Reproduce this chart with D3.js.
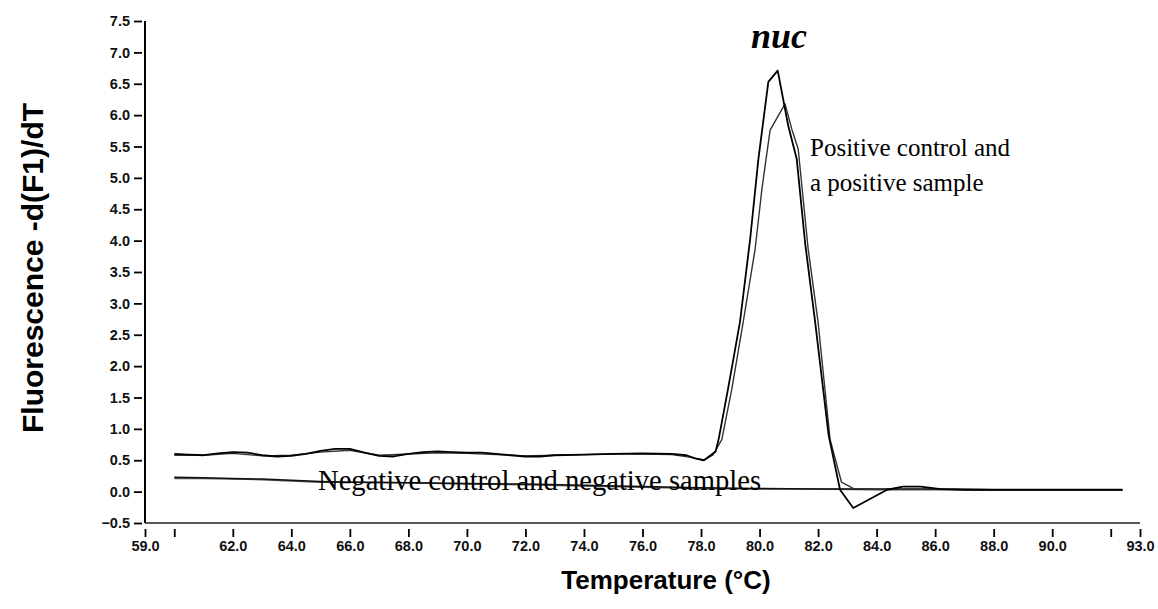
<!DOCTYPE html>
<html>
<head>
<meta charset="utf-8">
<script src="https://cdn.jsdelivr.net/npm/d3@7"></script>
<style>
  body { margin: 0; background: #fff; }
  .ejes text { font-family: 'Liberation Sans', Arial, sans-serif; font-weight: bold; font-size: 14.5px; fill: #111; }
  .titulo { font-family: 'Liberation Sans', Arial, sans-serif; font-weight: bold; fill: #000; }
  .nota { font-family: 'Liberation Serif', 'Times New Roman', serif; fill: #000; }
</style>
</head>
<body>
<div id="graf"></div>
<script>
const anchoTotal = 1158
const altoTotal = 609

// datos
const yTicks = [-0.5, 0, 0.5, 1, 1.5, 2, 2.5, 3, 3.5, 4, 4.5, 5, 5.5, 6, 6.5, 7, 7.5]
const xTicks = [59, 60, 62, 64, 66, 68, 70, 72, 74, 76, 78, 80, 82, 84, 86, 88, 90, 92, 93]
const xLabels = [59, 62, 64, 66, 68, 70, 72, 74, 76, 78, 80, 82, 84, 86, 88, 90, 93]

// control positivo
const tempPos1 = [60, 60.5, 61, 61.5, 62, 62.5, 63, 63.5, 64, 64.5, 65, 65.5, 66, 66.5, 67, 67.5, 68, 68.5, 69, 69.5, 70, 70.5, 71, 71.5, 72, 72.5, 73, 74, 75, 76, 77, 77.5, 77.8, 78.1, 78.5, 78.6, 78.92, 79.33, 79.68, 79.96, 80.3, 80.62, 80.98, 81.27, 81.56, 81.9, 82.36, 82.75, 83.2, 84.36, 84.9, 85.5, 86.2, 87, 88, 90, 92.4]
const valPos1 = [0.60, 0.59, 0.58, 0.61, 0.63, 0.62, 0.58, 0.56, 0.57, 0.60, 0.65, 0.68, 0.68, 0.62, 0.57, 0.56, 0.60, 0.63, 0.64, 0.63, 0.62, 0.62, 0.60, 0.58, 0.56, 0.56, 0.58, 0.59, 0.60, 0.61, 0.60, 0.58, 0.53, 0.50, 0.64, 0.83, 1.63, 2.70, 4.03, 5.30, 6.53, 6.71, 5.83, 5.30, 3.95, 2.70, 0.90, 0.03, -0.26, 0.03, 0.08, 0.08, 0.04, 0.03, 0.03, 0.03, 0.03]

// muestra positiva
const tempPos2 = [60, 61, 62, 63, 64, 65, 66, 67, 68, 69, 70, 71, 72, 73, 74, 75, 76, 77, 77.6, 78.1, 78.4, 78.71, 79.05, 79.44, 79.85, 80.08, 80.36, 80.87, 81.1, 81.32, 81.66, 82.0, 82.41, 82.8, 83.2, 84, 86, 88, 92.4]
const valPos2 = [0.58, 0.58, 0.61, 0.57, 0.58, 0.63, 0.66, 0.58, 0.60, 0.62, 0.61, 0.59, 0.57, 0.58, 0.59, 0.60, 0.60, 0.59, 0.55, 0.50, 0.58, 0.83, 1.63, 2.70, 3.87, 4.82, 5.76, 6.18, 5.78, 5.46, 3.87, 2.70, 0.83, 0.15, 0.05, 0.04, 0.04, 0.03, 0.03]

// controles negativos
const tempNeg = [60, 61, 62, 63, 64, 65, 66, 67, 68, 70, 72, 74, 76, 78, 80, 82, 84, 86, 88, 90, 92.4]
const valNeg1 = [0.23, 0.22, 0.21, 0.20, 0.18, 0.16, 0.15, 0.15, 0.14, 0.13, 0.12, 0.10, 0.08, 0.06, 0.05, 0.04, 0.04, 0.04, 0.03, 0.03, 0.03]
const valNeg2 = [0.21, 0.21, 0.20, 0.19, 0.17, 0.15, 0.15, 0.14, 0.14, 0.12, 0.11, 0.09, 0.07, 0.05, 0.04, 0.04, 0.03, 0.03, 0.03, 0.03, 0.03]

const series = [
  { t: tempNeg, v: valNeg2, color: '#555', w: 1.5 },
  { t: tempNeg, v: valNeg1, color: '#111', w: 1.5 },
  { t: tempPos2, v: valPos2, color: '#333', w: 1.4 },
  { t: tempPos1, v: valPos1, color: '#000', w: 1.8 },
]

const svg = d3.select('#graf')
  .append('svg')
  .attr('width', anchoTotal)
  .attr('height', altoTotal)

const margin = { top: 21, left: 145, right: 18, bottom: 86 }
const ancho = anchoTotal - margin.left - margin.right
const alto = altoTotal - margin.top - margin.bottom

const g = svg.append('g')
  .attr('transform', `translate(${margin.left}, ${margin.top})`)

const x = d3.scaleLinear().domain([59, 93]).range([0, ancho])
const y = d3.scaleLinear().domain([-0.5, 7.5]).range([alto, 0])

// eje y
const yAxisGroup = g.append('g').attr('class', 'ejes')
yAxisGroup.call(
  d3.axisLeft(y)
    .tickValues(yTicks)
    .tickFormat(d3.format('.1f'))
    .tickSize(12)
    .tickPadding(3)
)
yAxisGroup.select('.domain').remove()
yAxisGroup.selectAll('.tick line')
  .attr('x1', -3).attr('x2', -11)
  .attr('stroke', '#000').attr('stroke-width', 1.8)

// eje x
const xAxisGroup = g.append('g')
  .attr('class', 'ejes')
  .attr('transform', `translate(0, ${alto})`)
xAxisGroup.call(
  d3.axisBottom(x)
    .tickValues(xTicks)
    .tickFormat(d => xLabels.includes(d) ? d3.format('.1f')(d) : '')
    .tickSize(14)
    .tickPadding(4)
)
xAxisGroup.select('.domain').remove()
xAxisGroup.selectAll('.tick line')
  .attr('y1', 6).attr('y2', 14)
  .attr('stroke', '#000').attr('stroke-width', 1.8)

// lineas de ejes
g.append('line')
  .attr('x1', 0).attr('x2', 0).attr('y1', y(7.5)).attr('y2', y(-0.5))
  .attr('stroke', '#000').attr('stroke-width', 2)
g.append('line')
  .attr('x1', 0).attr('x2', x(93)).attr('y1', y(-0.5)).attr('y2', y(-0.5))
  .attr('stroke', '#222').attr('stroke-width', 1.4)

// curvas
const linea = d3.line()
  .x(d => x(d[0]))
  .y(d => y(d[1]))

series.forEach(s => {
  g.append('path')
    .datum(s.t.map((t, i) => [t, s.v[i]]))
    .attr('d', linea)
    .attr('fill', 'none')
    .attr('stroke', s.color)
    .attr('stroke-width', s.w)
    .attr('stroke-linejoin', 'round')
})

// titulos
svg.append('text')
  .attr('class', 'titulo')
  .attr('x', 666)
  .attr('y', 589)
  .attr('text-anchor', 'middle')
  .attr('font-size', 26)
  .text('Temperature (°C)')

svg.append('text')
  .attr('class', 'titulo')
  .attr('transform', 'translate(43, 268) rotate(-90)')
  .attr('text-anchor', 'middle')
  .attr('font-size', 30)
  .text('Fluorescence -d(F1)/dT')

// anotaciones
svg.append('text')
  .attr('class', 'nota')
  .attr('x', 779)
  .attr('y', 48)
  .attr('text-anchor', 'middle')
  .attr('font-size', 36)
  .attr('font-weight', 'bold')
  .attr('font-style', 'italic')
  .text('nuc')

svg.append('text')
  .attr('class', 'nota')
  .attr('x', 810)
  .attr('y', 156)
  .attr('font-size', 25)
  .text('Positive control and')

svg.append('text')
  .attr('class', 'nota')
  .attr('x', 810)
  .attr('y', 191)
  .attr('font-size', 25)
  .text('a positive sample')

svg.append('text')
  .attr('class', 'nota')
  .attr('x', 318)
  .attr('y', 490)
  .attr('font-size', 28.6)
  .text('Negative control and negative samples')
</script>
</body>
</html>
